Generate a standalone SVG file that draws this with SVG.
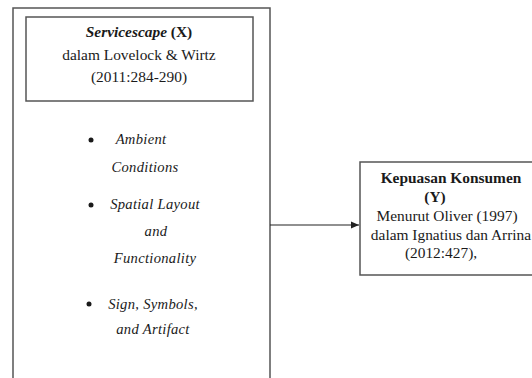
<svg xmlns="http://www.w3.org/2000/svg" width="532" height="378" viewBox="0 0 532 378">
<style>
.box{fill:#fff;stroke:#555;stroke-width:1.5}
.t{font-family:"Liberation Serif","Times New Roman",serif;font-size:15.4px;fill:#1a1a1a;text-anchor:middle}
.i{font-family:"Liberation Serif","Times New Roman",serif;font-size:14.6px;font-style:italic;letter-spacing:0.3px;fill:#1a1a1a;text-anchor:middle}
.b{font-weight:bold}
.con{stroke:#222;stroke-width:1.2;fill:none}
</style>
<defs>
<marker id="ah" markerWidth="8" markerHeight="8" refX="8" refY="4" orient="auto" markerUnits="userSpaceOnUse">
<path d="M0,0.5 L8,4 L0,7.5 Z" fill="#222"/>
</marker>
</defs>
<rect width="532" height="378" fill="#fff"/>
<g id="servicescape">
<rect class="box" x="13" y="8" width="257" height="380"/>
<g id="servicescape-title">
<rect class="box" x="26" y="17" width="227" height="84"/>
<text class="t" x="139" y="37"><tspan class="b" font-style="italic">Servicescape</tspan><tspan class="b"> (X)</tspan></text>
<text class="t" x="139" y="60">dalam Lovelock &amp; Wirtz</text>
<text class="t" x="139" y="82">(2011:284-290)</text>
</g>
<g id="dimensions">
<circle cx="91" cy="140" r="2.5" fill="#1a1a1a"/>
<text class="i" x="141" y="144">Ambient</text>
<text class="i" x="145" y="172">Conditions</text>
<circle cx="91" cy="205" r="2.5" fill="#1a1a1a"/>
<text class="i" x="155" y="209">Spatial Layout</text>
<text class="i" x="156" y="236">and</text>
<text class="i" x="155" y="263">Functionality</text>
<circle cx="89" cy="304" r="2.5" fill="#1a1a1a"/>
<text class="i" x="153" y="309">Sign, Symbols,</text>
<text class="i" x="153" y="334">and Artifact</text>
</g>
</g>
<g id="kepuasan">
<rect class="box" x="360" y="162" width="180" height="113"/>
<text class="t b" x="451" y="183">Kepuasan Konsumen</text>
<text class="t b" x="435" y="202">(Y)</text>
<text class="t" x="447" y="221">Menurut Oliver (1997)</text>
<text class="t" x="451" y="240">dalam Ignatius dan Arrina</text>
<text class="t" x="441" y="258">(2012:427),</text>
</g>
<g id="connectors">
<line class="con" x1="270" y1="225" x2="359" y2="225" marker-end="url(#ah)"/>
</g>
</svg>
